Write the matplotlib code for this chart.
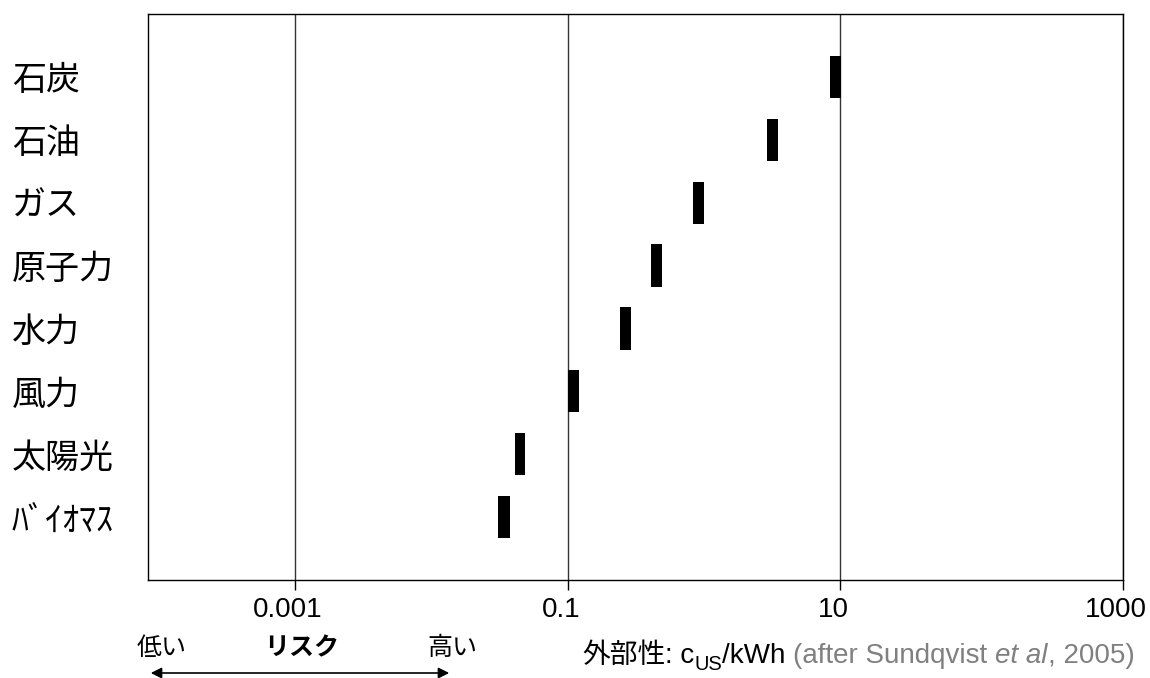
import matplotlib
matplotlib.use("Agg")
import matplotlib.pyplot as plt
import matplotlib.transforms as mtransforms
import numpy as np

plt.rcParams['font.family'] = ['Liberation Sans', 'Noto Sans CJK JP', 'DejaVu Sans']

# データ（外部性の範囲, c_US/kWh）
sources = ['石炭', '石油', 'ガス', '原子力', '水力', '風力', '太陽光', 'ﾊﾞｲｵﾏｽ']
cost_low = [8.4, 2.9, 0.83, 0.41, 0.24, 0.10, 0.041, 0.031]
cost_high = [10.1, 3.5, 1.0, 0.49, 0.29, 0.121, 0.049, 0.038]
xtick_vals = [0.001, 0.1, 10, 1000]
xtick_labels = ['0.001', '0.1', '10', '1000']

# 元図の目盛り間隔（最後の2桁だけ少し広い）を再現する対数軸
knot_log = [-5, -3, -1, 1, 3, 5]
knot_pos = [22.3, 295, 567.7, 840.3, 1123, 1405.7]


def fwd(x):
    return np.interp(np.log10(np.clip(x, 1e-12, None)), knot_log, knot_pos)


def inv(p):
    return 10 ** np.interp(p, knot_pos, knot_log)


fig = plt.figure(figsize=(11.5, 6.78), dpi=100)
ax = fig.add_axes([148 / 1150, 1 - 580 / 678, (1123 - 148) / 1150, (580 - 14) / 678])

ypos = list(range(1, len(sources) + 1))
widths = [h - l for l, h in zip(cost_low, cost_high)]
ax.barh(ypos, widths, left=cost_low, height=0.67, color='black', zorder=3)

ax.set_xscale('function', functions=(fwd, inv))
ax.set_xlim(inv(148), 1000)
ax.set_ylim(len(sources) + 1, 0)

ax.set_xticks(xtick_vals)
ax.set_xticklabels(xtick_labels, fontsize=20)
ax.xaxis.set_minor_locator(matplotlib.ticker.NullLocator())
ax.tick_params(axis='x', direction='out', length=7.2, width=1, pad=5, colors='black')
shift = mtransforms.ScaledTranslation(-7 / 100, 0, fig.dpi_scale_trans)
for lab in ax.get_xticklabels():
    lab.set_transform(lab.get_transform() + shift)
ax.grid(axis='x', color='#333333', linewidth=1)
ax.set_axisbelow(True)

# 左側のラベル
ax.set_yticks(ypos)
ax.set_yticklabels(sources, fontsize=24.5, family=['Noto Sans CJK JP', 'DejaVu Sans'], ha='left')
ax.tick_params(axis='y', length=0, pad=136 * 72 / 100)

for s in ax.spines.values():
    s.set_color('black')
    s.set_linewidth(1)

# 下部のリスク表示
cjk = ['Noto Sans CJK JP', 'DejaVu Sans']
fig.text(137 / 1150, 1 - 648 / 678, '低い', fontsize=18, family=cjk, va='center')
fig.text(302 / 1150, 1 - 648 / 678, 'リスク', fontsize=18, family=cjk, weight='bold',
         va='center', ha='center')
fig.text(427 / 1150, 1 - 648 / 678, '高い', fontsize=18, family=cjk, va='center')
fig.patches.append(matplotlib.patches.FancyArrowPatch(
    (148 / 1150, 1 - 673 / 678), (452 / 1150, 1 - 673 / 678),
    transform=fig.transFigure, arrowstyle='<|-|>', mutation_scale=16,
    color='black', linewidth=1.2))

# 横軸タイトル
base_y = 1 - 663 / 678
t1 = fig.text(582 / 1150, base_y, '外部性', fontsize=20, family=cjk, va='baseline')
t1b = ax.annotate(': c', xy=(1, base_y), xycoords=(t1, 'figure fraction'), fontsize=20,
                  va='baseline', ha='left', annotation_clip=False)
t2 = ax.annotate('US', xy=(1, base_y), xycoords=(t1b, 'figure fraction'),
                 xytext=(0, -5), textcoords='offset points',
                 fontsize=14.5, va='baseline', ha='left', annotation_clip=False)
t3 = ax.annotate('/kWh ', xy=(1, base_y), xycoords=(t2, 'figure fraction'), fontsize=20,
                 va='baseline', ha='left', annotation_clip=False)
t4 = ax.annotate('(after Sundqvist ', xy=(1, base_y), xycoords=(t3, 'figure fraction'),
                 fontsize=20, va='baseline', ha='left', color='#808080', annotation_clip=False)
t5 = ax.annotate('et al', xy=(1, base_y), xycoords=(t4, 'figure fraction'), fontsize=20,
                 va='baseline', ha='left', color='#808080', style='italic',
                 annotation_clip=False)
t6 = ax.annotate(', 2005)', xy=(1, base_y), xycoords=(t5, 'figure fraction'), fontsize=20,
                 va='baseline', ha='left', color='#808080', annotation_clip=False)

fig.savefig('out.png', dpi=100)
